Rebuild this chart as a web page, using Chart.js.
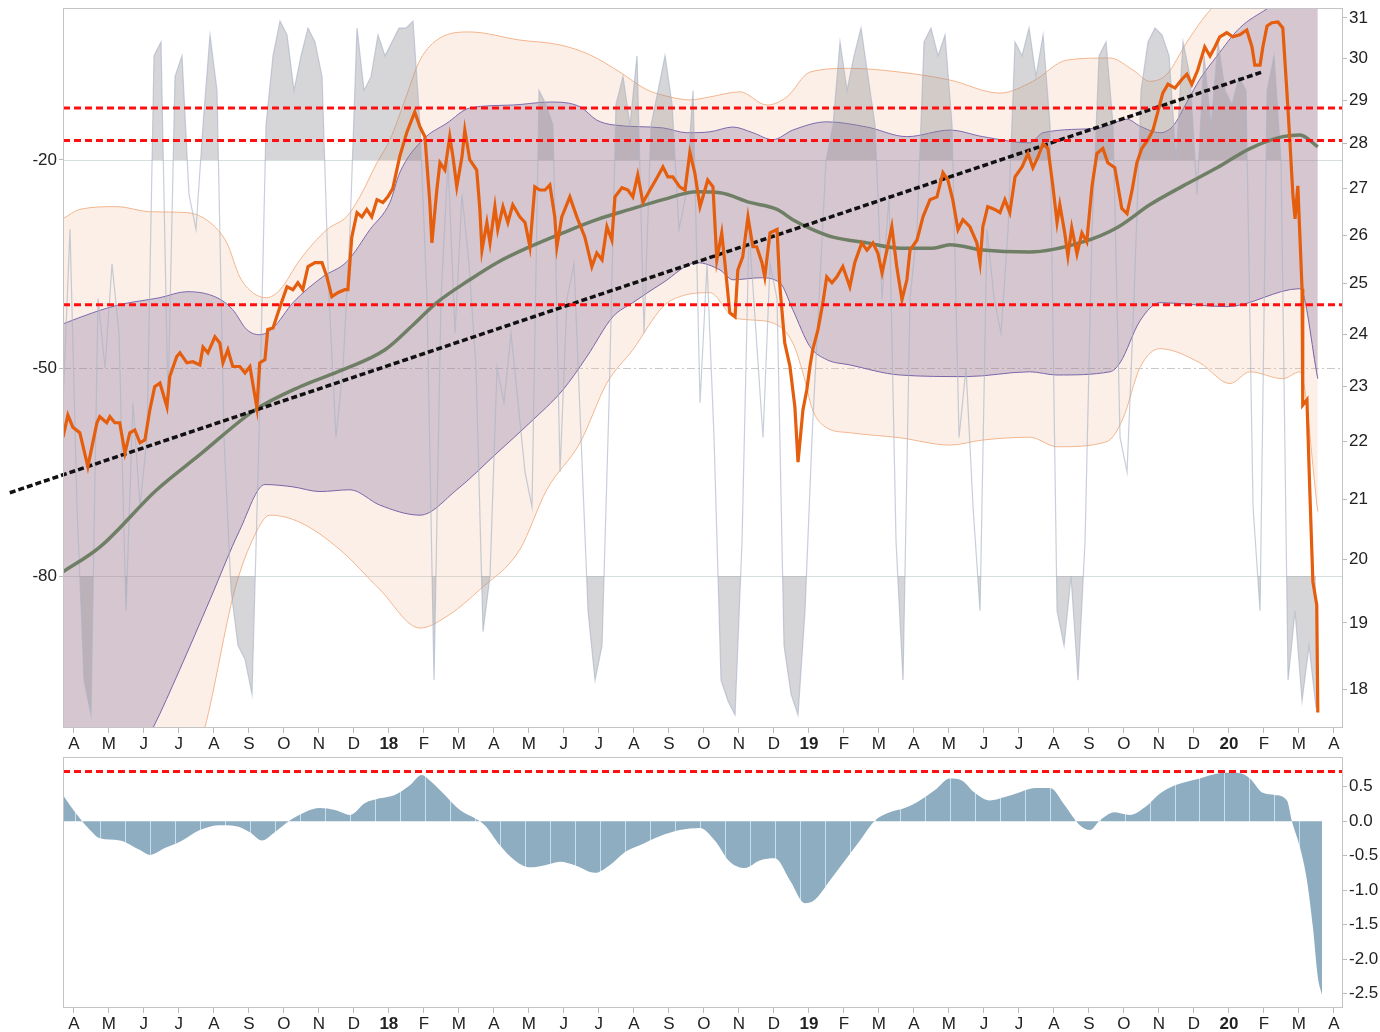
<!DOCTYPE html>
<html>
<head>
<meta charset="utf-8">
<script src="https://cdn.jsdelivr.net/npm/chart.js@4.4.1/dist/chart.umd.min.js"></script>
<style>
  html, body { margin: 0; padding: 0; background: #fff; }
  #wrap { position: relative; width: 1380px; height: 1032px; overflow: hidden; }
  .pane { position: absolute; left: 0; }
</style>
</head>
<body>
<div id="wrap">
  <div class="pane" style="top:0"><canvas id="top-chart" width="1380" height="757"></canvas></div>
  <div class="pane" style="top:757px"><canvas id="osc-chart" width="1380" height="275"></canvas></div>
</div>
<script>
// month labels, one per month from Apr 2017 (x = 0) to Apr 2020 (x = 36)
const monthLabels = ['A','M','J','J','A','S','O','N','D','18','F','M','A','M','J','J','A','S','O','N','D','19',
  'F','M','A','M','J','J','A','S','O','N','D','20','F','M','A'];
const priceTicks = [18,19,20,21,22,23,24,25,26,27,28,29,30,31];
const pctRTicks = [-20,-50,-80];
const oscTicks = [0.5,0,-0.5,-1,-1.5,-2,-2.5];

// price, [month, value]
const price = [[-0.31,22.08],[-0.17,22.48],[-0.03,22.26],[0.17,22.16],[0.40,21.56],[0.54,21.98],[0.66,22.34],[0.74,22.45],[0.94,22.34],[1.03,22.45],[1.17,22.34],[1.31,22.34],[1.46,21.80],[1.60,22.16],[1.74,22.21],[1.89,21.98],[2.03,22.03],[2.17,22.57],[2.31,23.00],[2.46,23.07],[2.66,22.63],[2.74,23.19],[2.94,23.57],[3.03,23.64],[3.23,23.45],[3.40,23.47],[3.60,23.41],[3.69,23.75],[3.83,23.64],[4.03,23.95],[4.17,23.83],[4.26,23.45],[4.40,23.70],[4.54,23.38],[4.74,23.38],[4.89,23.26],[5.03,23.38],[5.23,22.61],[5.31,23.45],[5.46,23.51],[5.54,24.09],[5.69,24.12],[5.89,24.54],[6.09,24.94],[6.26,24.88],[6.40,25.02],[6.54,24.88],[6.69,25.35],[6.89,25.43],[7.09,25.43],[7.23,25.14],[7.37,24.74],[7.54,24.82],[7.74,24.88],[7.83,24.88],[7.94,25.96],[8.09,26.48],[8.23,26.39],[8.37,26.55],[8.51,26.39],[8.66,26.76],[8.83,26.70],[8.97,26.82],
  [9.11,27.00],[9.31,27.71],[9.51,28.25],[9.74,28.73],[9.89,28.38],[10.03,28.16],[10.17,26.70],[10.23,25.84],[10.37,26.97],[10.46,27.57],[10.60,27.41],[10.74,28.16],[10.83,27.71],[10.94,27.04],[11.09,27.71],[11.17,28.31],[11.31,27.64],[11.51,27.41],[11.60,26.55],[11.66,25.69],[11.80,26.27],[11.89,25.84],[12.03,26.61],[12.11,26.12],[12.26,26.61],[12.40,26.27],[12.54,26.65],[12.74,26.39],[12.89,26.27],[13.03,25.76],[13.17,27.04],[13.31,26.97],[13.46,26.97],[13.60,27.08],[13.74,26.39],[13.80,25.76],[13.94,26.39],[14.17,26.82],[14.37,26.39],[14.60,25.96],[14.80,25.35],[14.94,25.63],[15.09,25.49],[15.23,26.18],[15.37,25.90],[15.46,26.82],[15.66,27.02],[15.83,26.97],[15.97,26.82],[16.11,27.30],[16.26,26.70],[16.46,26.97],[16.66,27.24],[16.83,27.48],[16.97,27.26],[17.11,27.26],[17.31,27.04],[17.46,26.97],[17.60,27.80],[17.74,27.35],[17.89,26.61],[18.03,26.97],
  [18.11,27.19],[18.26,27.04],[18.37,25.49],[18.51,26.05],[18.60,25.43],[18.74,24.42],[18.89,24.34],[18.97,25.28],[19.11,25.55],[19.26,26.39],[19.40,25.76],[19.51,25.76],[19.66,25.43],[19.74,25.14],[19.89,26.05],[20.09,26.12],[20.17,24.96],[20.31,23.83],[20.46,23.38],[20.60,22.63],[20.69,21.64],[20.83,22.57],[20.94,22.94],[21.03,23.38],[21.11,23.70],[21.26,24.09],[21.40,24.62],[21.51,25.14],[21.66,25.02],[21.80,25.14],[21.97,25.35],[22.17,24.94],[22.31,25.43],[22.51,25.84],[22.66,25.69],[22.83,25.84],[22.97,25.63],[23.09,25.22],[23.23,25.69],[23.37,26.18],[23.51,25.35],[23.66,24.68],[23.80,25.08],[23.89,25.69],[24.09,25.90],[24.26,26.39],[24.46,26.76],[24.66,26.82],[24.83,27.35],[24.97,27.19],[25.11,26.76],[25.26,26.12],[25.40,26.33],[25.60,26.18],[25.80,25.84],[25.89,25.43],[25.97,26.18],[26.11,26.61],[26.31,26.55],[26.46,26.48],[26.60,26.76],[26.74,26.48],[26.89,27.26],[27.09,27.48],[27.26,27.78],[27.40,27.46],[27.54,27.69],[27.69,28.00],[27.83,27.89],[27.97,27.06],[28.09,26.27],[28.17,26.65],[28.31,26.05],[28.40,25.57],[28.51,26.16],[28.66,25.61],[28.80,26.05],[28.94,25.86],[29.09,27.06],[29.23,27.78],[29.40,27.89],[29.54,27.57],[29.74,27.46],[29.94,26.57],[30.09,26.46],[30.23,26.95],[30.37,27.57],[30.51,27.89],[30.69,28.09],[30.83,28.31],[30.97,28.73],[31.11,29.17],[31.26,29.38],[31.46,29.29],[31.66,29.50],[31.80,29.62],[31.94,29.38],[32.11,29.72],[32.31,30.28],[32.46,30.06],[32.60,30.28],[32.74,30.53],[32.94,30.63],[33.11,30.53],[33.31,30.58],[33.51,30.70],[33.66,30.28],[33.74,29.84],[33.89,29.84],[33.97,30.28],[34.09,30.80],[34.23,30.88],[34.40,30.90],[34.54,30.75],[34.66,29.17],[34.74,28.09],[34.83,26.85],[34.89,26.35],[34.97,27.06],[35.09,24.90],[35.11,22.66],[35.23,22.76],[35.31,21.17],[35.40,19.64],[35.51,19.28],[35.54,17.67]];

// moving average
const movingAvg = [[-0.31,19.80],[0.74,20.20],[2.37,21.16],[3.60,21.77],[5.17,22.57],[6.46,23.00],[7.69,23.32],[8.89,23.70],[9.69,24.18],[10.37,24.62],[11.31,25.08],[12.09,25.43],[13.03,25.76],[13.97,26.05],[14.94,26.33],[15.89,26.55],[16.83,26.76],[17.80,26.93],[18.46,26.91],[19.31,26.70],[20.09,26.55],[20.54,26.33],[21.11,26.12],[21.69,25.96],[22.66,25.84],[23.60,25.73],[24.54,25.73],[25.03,25.80],[25.97,25.69],[27.31,25.65],[28.83,25.86],[29.80,26.16],[30.74,26.65],[31.69,27.06],[32.66,27.46],[33.60,27.89],[34.54,28.16],[35.03,28.20],[35.54,27.93]];

// inner band (purple)
const innerUpper = [[-0.31,24.20],[0.54,24.42],[1.31,24.58],[2.46,24.72],[3.23,24.84],[4.09,24.72],[4.54,24.48],[4.94,24.09],[5.31,23.99],[5.69,24.12],[6.26,24.62],[7.11,25.14],[7.80,25.45],[8.46,26.12],[9.03,26.70],[9.31,27.35],[9.97,28.09],[10.66,28.47],[11.31,28.82],[12.54,28.89],[13.60,28.96],[14.46,28.85],[14.94,28.54],[15.40,28.43],[16.83,28.36],[17.51,28.25],[18.17,28.27],[18.83,28.38],[19.40,28.25],[19.97,28.09],[20.54,28.31],[21.51,28.50],[22.66,28.38],[23.80,28.16],[25.03,28.31],[25.97,28.16],[27.31,28.02],[27.69,28.25],[29.31,28.36],[30.09,28.56],[30.46,28.40],[31.03,28.25],[31.40,28.40],[31.80,28.96],[32.17,29.50],[32.66,30.06],[33.31,30.75],[34.09,31.23],[34.74,31.6],[35.54,31.8]];
const innerLower = [[-0.31,15.2],[0.89,16.3],[2.26,17.45],[3.03,18.30],[3.89,19.36],[4.74,20.48],[5.46,21.25],[6.26,21.21],[7.03,21.13],[7.89,21.16],[8.74,20.90],[9.89,20.73],[10.94,21.16],[12.09,21.80],[13.03,22.34],[13.97,22.94],[14.66,23.57],[15.40,24.34],[15.97,24.62],[16.83,25.02],[17.80,25.43],[18.46,25.28],[18.83,25.08],[19.60,25.12],[20.17,25.02],[20.54,24.48],[21.03,23.76],[21.51,23.51],[22.17,23.41],[23.60,23.22],[25.51,23.19],[27.31,23.28],[28.09,23.22],[29.60,23.28],[29.89,23.45],[30.46,24.26],[31.03,24.62],[32.94,24.54],[35.03,24.90],[35.54,23.15]];

// outer band (orange)
const outerUpper = [[-0.31,26.35],[0.17,26.55],[1.23,26.61],[2.17,26.50],[3.23,26.48],[3.89,26.27],[4.37,25.84],[4.74,25.14],[5.11,24.82],[5.51,24.72],[5.89,24.88],[6.46,25.49],[7.23,26.12],[7.80,26.40],[8.17,26.82],[8.66,27.57],[9.03,28.09],[9.46,29.01],[9.89,29.96],[10.46,30.50],[11.31,30.65],[12.74,30.45],[13.89,30.33],[14.74,30.09],[15.60,29.67],[16.37,29.25],[17.03,29.08],[17.60,29.01],[18.17,29.08],[19.03,29.20],[19.80,28.89],[20.37,29.08],[21.03,29.67],[22.17,29.76],[23.60,29.67],[25.03,29.48],[26.46,29.17],[27.40,29.45],[28.37,29.96],[29.60,30.01],[30.26,29.72],[30.74,29.45],[31.23,29.62],[31.80,30.40],[32.37,31.10],[33.03,31.7],[34.17,32.2],[35.54,32.5]];
const outerLower = [[-0.31,14.0],[2.17,15.3],[3.74,17.45],[4.60,19.52],[5.17,20.40],[5.60,20.73],[6.46,20.61],[7.60,20.16],[8.74,19.52],[9.89,18.92],[10.74,19.13],[11.60,19.52],[12.74,20.16],[13.51,21.16],[14.46,21.98],[15.23,23.07],[15.97,23.70],[16.83,24.54],[17.31,24.74],[18.17,24.82],[18.83,24.34],[19.31,24.28],[19.97,24.22],[20.54,23.83],[20.83,23.26],[21.11,22.57],[21.51,22.25],[22.17,22.16],[23.60,22.07],[25.03,21.94],[25.97,22.03],[27.31,22.08],[28.09,21.91],[29.51,22.00],[29.97,22.41],[30.46,23.36],[31.03,23.72],[32.17,23.45],[33.03,23.06],[33.60,23.28],[34.54,23.15],[35.03,23.28],[35.54,20.79]];

// trend line end points
const trend = [[-1.83,21.11],[33.94,29.67]];
// support / resistance levels
const levels = [28.82, 28.07, 24.58];

// %R oscillator, one value every 0.2 month starting at month -0.31
const pctRStart = -0.31, pctRStep = 0.2;
const pctR = [-55,-30,-70,-95,-100,-40,-50,-35,-45,-85,-55,-70,-60,-5,-3,-55,-8,-5,-25,-30,
  -15,-2,-10,-60,-82,-90,-92,-97,-60,-15,-5,0,-2,-10,-5,-1,-3,-8,-40,-60,
  -50,-30,-1,-10,-8,-2,-5,-3,-1,-1,0,-15,-40,-95,-40,-20,-45,-25,-35,-50,
  -88,-80,-50,-55,-45,-55,-65,-70,-10,-12,-15,-65,-40,-35,-60,-85,-95,-90,-55,-12,
  -8,-15,-5,-45,-15,-10,-5,-12,-30,-25,-10,-55,-35,-60,-95,-98,-100,-75,-30,-45,
  -60,-35,-40,-90,-97,-100,-85,-60,-40,-20,-15,-3,-10,-5,-1,-8,-15,-40,-25,-75,
  -95,-40,-30,-3,-1,-5,-2,-15,-60,-50,-70,-85,-30,-40,-45,-30,-3,-5,-1,-8,
  -2,-15,-85,-90,-80,-95,-75,-30,-5,-3,-15,-60,-65,-40,-10,-3,-1,-2,-5,-20,
  -3,-8,-25,-5,-15,-3,-10,-12,-8,-10,-70,-85,-10,-5,-20,-95,-85,-98,-90,-99];

// lower panel oscillator
const osc = [[-0.31,0.38],[-0.11,0.23],[0.17,0.04],[0.46,-0.13],[0.74,-0.25],[1.31,-0.28],[1.89,-0.42],[2.17,-0.49],[2.60,-0.39],[3.03,-0.30],[3.60,-0.13],[4.17,-0.06],[4.60,-0.07],[5.03,-0.16],[5.37,-0.28],[5.74,-0.16],[6.17,0.01],[6.60,0.13],[7.03,0.19],[7.46,0.16],[7.89,0.09],[8.31,0.26],[8.74,0.33],[9.17,0.38],[9.60,0.52],[9.94,0.67],[10.17,0.59],[10.60,0.38],[11.03,0.16],[11.46,0.04],[11.74,-0.06],[12.17,-0.35],[12.60,-0.57],[13.03,-0.67],[13.46,-0.64],[13.89,-0.59],[14.31,-0.64],[14.89,-0.75],[15.31,-0.64],[15.74,-0.45],[16.17,-0.35],[16.74,-0.22],[17.31,-0.13],[17.89,-0.10],[18.31,-0.28],[18.74,-0.59],[19.17,-0.68],[19.60,-0.57],[20.03,-0.54],[20.46,-0.86],[20.89,-1.19],[21.17,-1.14],[21.60,-0.86],[22.03,-0.57],[22.46,-0.28],[22.89,0.01],[23.31,0.13],[23.74,0.19],[24.17,0.30],[24.60,0.45],[25.03,0.62],[25.37,0.59],[25.74,0.41],[26.17,0.30],[26.60,0.35],[27.03,0.42],[27.46,0.48],[27.89,0.48],[28.31,0.23],[28.74,-0.06],[29.03,-0.13],[29.31,0.01],[29.74,0.13],[30.17,0.09],[30.60,0.20],[31.03,0.40],[31.46,0.52],[32.17,0.62],[32.89,0.70],[33.24,0.70],[33.60,0.62],[33.97,0.41],[34.31,0.38],[34.66,0.30],[34.80,0.0],[35.03,-0.38],[35.23,-0.86],[35.40,-1.54],[35.54,-2.26],[35.66,-2.52]];
const oscLevel = 0.72;

const FONT = '"Liberation Sans", Arial, sans-serif';
const X_MIN = -0.31, X_MAX = 36.26;

const pts = arr => arr.map(p => ({ x: p[0], y: p[1] }));
const flat = v => [{ x: X_MIN, y: v }, { x: X_MAX, y: v }];
const pctRPts = pctR.map((v, i) => ({ x: pctRStart + i * pctRStep, y: v }));

// keep the plot box exactly where the axes put it
function noPad(s) { s.paddingTop = 0; s.paddingBottom = 0; s.paddingLeft = 0; s.paddingRight = 0; }

function xAxis(height) {
  return {
    type: 'linear', min: X_MIN, max: X_MAX,
    afterBuildTicks: s => { s.ticks = monthLabels.map((_, i) => ({ value: i })); },
    afterFit: s => { s.height = height; noPad(s); },
    ticks: {
      autoSkip: false, maxRotation: 0, padding: 1, color: '#222',
      font: c => ({ family: FONT, size: 17, weight: /\d/.test(monthLabels[c.index]) ? 'bold' : 'normal' }),
      callback: (v, i) => monthLabels[i]
    },
    grid: { drawOnChartArea: false, tickLength: 5, tickColor: '#bbb' },
    border: { display: false }
  };
}

// frame around the plot, %R guide lines, light stripes in the lower area
const framePlugin = {
  id: 'frame',
  beforeDatasetsDraw(chart, args, opts) {
    const { ctx, chartArea: a } = chart;
    if (opts.guides) {
      const s = chart.scales.yW;
      ctx.save();
      ctx.lineWidth = 1;
      [-20, -80].forEach(v => {
        const y = Math.round(s.getPixelForValue(v)) + 0.5;
        ctx.strokeStyle = '#d6dede';
        ctx.beginPath(); ctx.moveTo(a.left, y); ctx.lineTo(a.right, y); ctx.stroke();
      });
      const y = Math.round(s.getPixelForValue(-50)) + 0.5;
      ctx.strokeStyle = '#c8c8c8';
      ctx.setLineDash([8, 3, 2, 3]);
      ctx.beginPath(); ctx.moveTo(a.left, y); ctx.lineTo(a.right, y); ctx.stroke();
      ctx.restore();
    }
  },
  afterDatasetDraw(chart, args, opts) {
    if (!opts.stripes || args.index !== 0) return;
    const { ctx, chartArea: a } = chart;
    const xs = chart.scales.x;
    ctx.save();
    ctx.globalCompositeOperation = 'source-atop';
    ctx.strokeStyle = 'rgba(205,228,242,0.9)';
    ctx.lineWidth = 1;
    for (let m = 0.03; m < X_MAX; m += opts.stripes) {
      const x = Math.round(xs.getPixelForValue(m)) + 0.5;
      ctx.beginPath(); ctx.moveTo(x, a.top); ctx.lineTo(x, a.bottom); ctx.stroke();
    }
    ctx.restore();
  },
  afterDraw(chart) {
    const { ctx, chartArea: a } = chart;
    ctx.save();
    ctx.strokeStyle = '#c4c4c4';
    ctx.lineWidth = 1;
    ctx.strokeRect(a.left + 0.5, a.top + 0.5, a.right - a.left - 1, a.bottom - a.top - 1);
    ctx.restore();
  }
};

const base = {
  responsive: false, animation: false, events: [],
  parsing: false, normalized: true,
  elements: { point: { radius: 0 }, line: { tension: 0 } },
  plugins: { legend: { display: false }, tooltip: { enabled: false } }
};

const topChart = new Chart(document.getElementById('top-chart'), {
  type: 'line',
  data: {
    datasets: [
      { data: pts(outerUpper), yAxisID: 'yP', borderColor: '#f3b58c', borderWidth: 1, tension: 0.4,
        cubicInterpolationMode: 'monotone', fill: { target: 1 }, backgroundColor: 'rgba(238,190,160,0.25)', order: 10 },
      { data: pts(outerLower), yAxisID: 'yP', borderColor: '#f3b58c', borderWidth: 1, tension: 0.4,
        cubicInterpolationMode: 'monotone', fill: false, order: 10 },
      { data: pts(innerUpper), yAxisID: 'yP', borderColor: '#7b6aae', borderWidth: 1, tension: 0.4,
        cubicInterpolationMode: 'monotone', fill: { target: 3 }, backgroundColor: 'rgba(110,80,140,0.26)', order: 9 },
      { data: pts(innerLower), yAxisID: 'yP', borderColor: '#7b6aae', borderWidth: 1, tension: 0.4,
        cubicInterpolationMode: 'monotone', fill: false, order: 9 },
      { data: pctRPts, yAxisID: 'yW', borderWidth: 0, order: 8,
        fill: { target: { value: -20 }, above: 'rgba(140,140,148,0.36)', below: 'rgba(0,0,0,0)' } },
      { data: pctRPts, yAxisID: 'yW', borderWidth: 0, order: 8,
        fill: { target: { value: -80 }, above: 'rgba(0,0,0,0)', below: 'rgba(140,140,148,0.36)' } },
      { data: pctRPts, yAxisID: 'yW', borderColor: 'rgba(170,180,198,0.65)', borderWidth: 1.2, fill: false, order: 7 },
      { data: pts(movingAvg), yAxisID: 'yP', borderColor: '#6f7f66', borderWidth: 3.5, tension: 0.4,
        cubicInterpolationMode: 'monotone', fill: false, order: 5 },
      { data: pts(trend), yAxisID: 'yP', borderColor: '#111', borderWidth: 3.5, borderDash: [6, 3],
        fill: false, clip: false, order: 4 },
      { data: pts(price), yAxisID: 'yP', borderColor: '#e45e0e', borderWidth: 3.2, fill: false, order: 2 },
      ...levels.map(v => ({ data: flat(v), yAxisID: 'yP', borderColor: '#ff1010', borderWidth: 3,
        borderDash: [7, 4], fill: false, order: 1 }))
    ]
  },
  options: {
    ...base,
    layout: { padding: { top: 8 } },
    scales: {
      x: xAxis(29),
      yW: {
        type: 'linear', position: 'left', min: -101.9, max: 1.9,
        afterBuildTicks: s => { s.ticks = pctRTicks.map(v => ({ value: v })); },
        afterFit: s => { s.width = 63; noPad(s); },
        ticks: { color: '#222', font: { family: FONT, size: 17 }, padding: 2 },
        grid: { drawOnChartArea: false, tickLength: 4, tickColor: '#bbb' },
        border: { display: false }
      },
      yP: {
        type: 'logarithmic', position: 'right', min: 17.45, max: 31.25,
        afterBuildTicks: s => { s.ticks = priceTicks.map(v => ({ value: v })); },
        afterFit: s => { s.width = 37; noPad(s); },
        ticks: { color: '#222', font: { family: FONT, size: 17 }, padding: 2, callback: v => String(v) },
        grid: { drawOnChartArea: false, tickLength: 4, tickColor: '#bbb' },
        border: { display: false }
      }
    },
    plugins: { ...base.plugins, frame: { guides: true } }
  },
  plugins: [framePlugin]
});

const oscChart = new Chart(document.getElementById('osc-chart'), {
  type: 'line',
  data: {
    datasets: [
      { data: pts(osc), yAxisID: 'y', borderWidth: 0, tension: 0.3, cubicInterpolationMode: 'monotone',
        fill: 'origin', backgroundColor: '#8fadc0', order: 2 },
      { data: flat(oscLevel), yAxisID: 'y', borderColor: '#ff1010', borderWidth: 3, borderDash: [7, 4],
        fill: false, order: 1 }
    ]
  },
  options: {
    ...base,
    layout: { padding: { left: 63 } },
    scales: {
      x: xAxis(24),
      y: {
        type: 'linear', position: 'right', min: -2.71, max: 0.93,
        afterBuildTicks: s => { s.ticks = oscTicks.map(v => ({ value: v })); },
        afterFit: s => { s.width = 37; noPad(s); },
        ticks: { color: '#222', font: { family: FONT, size: 17 }, padding: 2, callback: v => v.toFixed(1) },
        grid: { drawOnChartArea: false, tickLength: 4, tickColor: '#bbb' },
        border: { display: false }
      }
    },
    plugins: { ...base.plugins, frame: { guides: false, stripes: 0.714 } }
  },
  plugins: [framePlugin]
});
</script>
</body>
</html>
